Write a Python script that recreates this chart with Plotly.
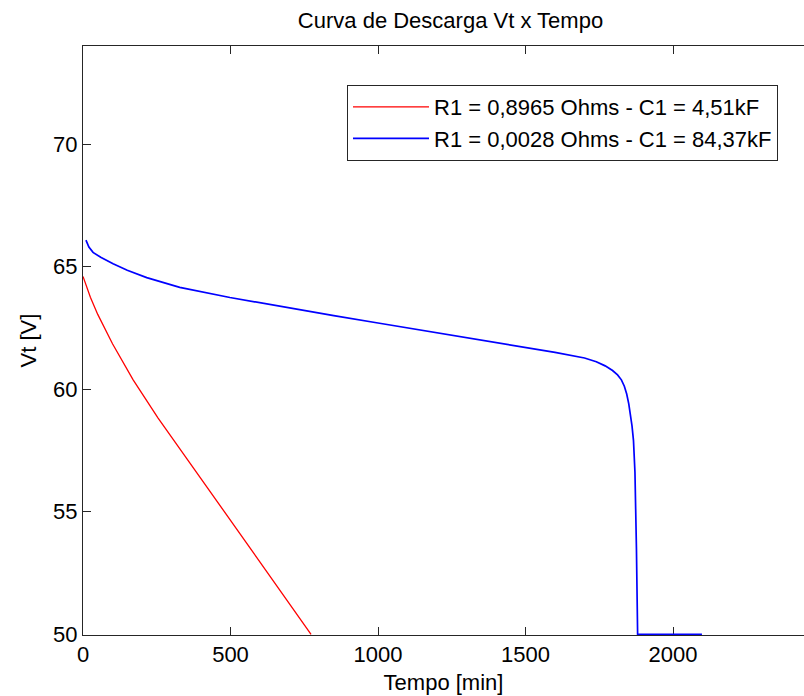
import plotly.graph_objects as go

# Data
red_t = [0, 25, 50, 100, 170, 254, 350, 450, 550, 650, 773]
red_v = [64.6, 63.75, 63.05, 61.85, 60.38, 58.83, 57.2, 55.5, 53.8, 52.08, 50.0]

blue_t = [10, 20, 34, 60, 102, 150, 216, 328, 498, 668, 850, 1000, 1200, 1400, 1500,
          1600, 1700, 1740, 1770, 1795, 1812, 1825, 1835, 1843, 1850, 1856, 1861, 1866,
          1871, 1876, 1880, 2098]
blue_v = [66.08, 65.8, 65.58, 65.38, 65.12, 64.85, 64.55, 64.15, 63.74, 63.37, 63.0, 62.7, 62.3, 61.92, 61.72,
          61.5, 61.27, 61.12, 60.95, 60.76, 60.58, 60.38, 60.12, 59.8, 59.4, 58.95, 58.5, 57.9,
          56.6, 53.5, 50.0, 50.0]

red_name = "R1 = 0,8965 Ohms - C1 = 4,51kF"
blue_name = "R1 = 0,0028 Ohms - C1 = 84,37kF"
title_text = "Curva de Descarga Vt x Tempo"
x_label = "Tempo [min]"
y_label = "Vt [V]"
x_ticks = [0, 500, 1000, 1500, 2000]
y_ticks = [50, 55, 60, 65, 70]

FONT = "Liberation Sans, Arial, sans-serif"
AX = "#262626"
FS = 22

fig = go.Figure()
fig.add_trace(go.Scatter(x=red_t, y=red_v, mode="lines", name=red_name,
                         line=dict(color="#ff0000", width=1.3), legendgroup="a"))
fig.add_trace(go.Scatter(x=blue_t, y=blue_v, mode="lines", name=blue_name,
                         line=dict(color="#0000ff", width=1.7), legendgroup="b"))

fig.update_layout(
    width=804, height=696,
    margin=dict(l=83, r=0, t=46, b=61),
    paper_bgcolor="white", plot_bgcolor="white",
    font=dict(family=FONT, size=FS, color="black"),
    title=dict(text=title_text, x=450.5 / 804, xref="container", xanchor="center",
               y=1 - 20 / 696, yref="container", yanchor="middle",
               font=dict(family=FONT, size=FS, color="black")),
    showlegend=True,
    legend=dict(x=(778 - 83) / 721, xanchor="right", y=(635 - 85) / 589, yanchor="top",
                bgcolor="white", bordercolor=AX, borderwidth=1,
                font=dict(family=FONT, size=FS, color="black"),
                itemwidth=76, tracegroupgap=0),
)
fig.update_xaxes(range=[0, 2444], tickvals=x_ticks, ticks="inside", ticklen=8, tickcolor=AX,
                 showline=True, linecolor=AX, linewidth=1, mirror="ticks", showgrid=False,
                 zeroline=False, layer="below traces",
                 title=dict(text=x_label, standoff=8, font=dict(size=FS)))
fig.update_yaxes(range=[49.97, 74], tickvals=y_ticks, ticks="inside", ticklen=8, tickcolor=AX,
                 showline=True, linecolor=AX, linewidth=1, mirror=False, showgrid=False,
                 zeroline=False, layer="below traces",
                 title=dict(text=y_label, standoff=10, font=dict(size=FS)))

fig.write_html("out.html")
